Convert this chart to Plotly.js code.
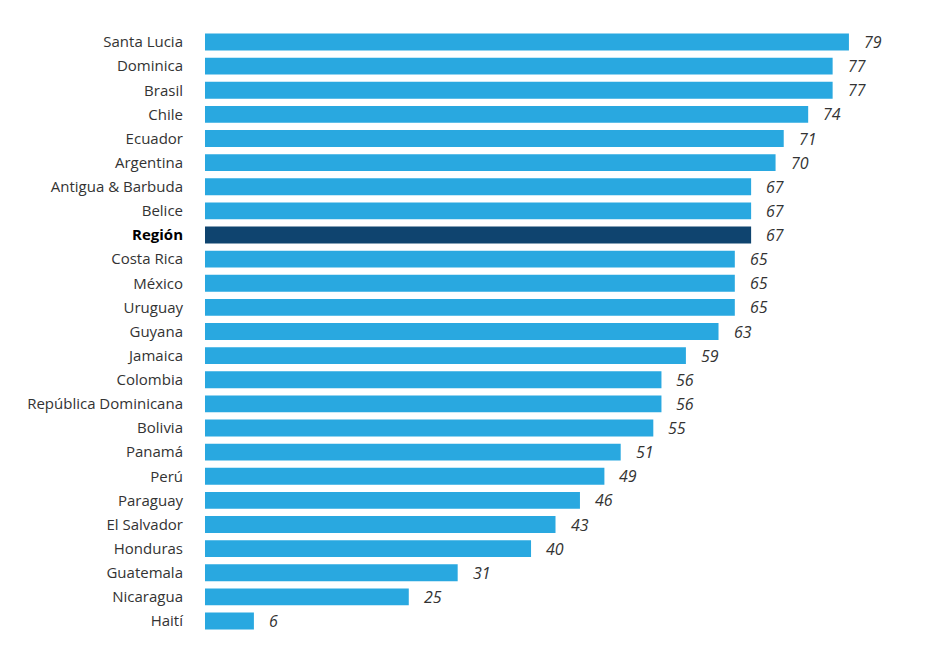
<!DOCTYPE html>
<html><head><meta charset="utf-8">
<script src="https://cdn.plot.ly/plotly-3.0.1.min.js"></script>
<style>body{margin:0;background:#fff}#c{width:928px;height:662px}</style>
</head><body><div id="c"></div>
<script>
const countries = ["Santa Lucia","Dominica","Brasil","Chile","Ecuador","Argentina","Antigua & Barbuda","Belice","Región","Costa Rica","México","Uruguay","Guyana","Jamaica","Colombia","República Dominicana","Bolivia","Panamá","Perú","Paraguay","El Salvador","Honduras","Guatemala","Nicaragua","Haití"];
const values = [79,77,77,74,71,70,67,67,67,65,65,65,63,59,56,56,55,51,49,46,43,40,31,25,6];
const highlight = "Región";

const colors = countries.map(c => c === highlight ? "#0f446f" : "#29a8e0");
const tickText = countries.map(c => c === highlight ? "<b><span style='color:#000'>" + c + "</span></b>" : c);

const trace = {
  type: "bar", orientation: "h",
  x: values, y: countries,
  marker: {color: colors},
  hoverinfo: "none"
};
const annotations = countries.map((c, i) => ({
  x: values[i], y: c, xref: "x", yref: "y",
  text: "<i>" + values[i] + "</i>", showarrow: false,
  xanchor: "left", xshift: 13,
  font: {family: "Open Sans, sans-serif", size: 16, color: "#333"}
}));
const layout = {
  width: 928, height: 662,
  margin: {l: 205, r: 0, t: 29, b: 28},
  paper_bgcolor: "#fff", plot_bgcolor: "#fff",
  showlegend: false,
  bargap: 0.3,
  font: {family: "Open Sans, sans-serif", size: 14, color: "#333"},
  xaxis: {range: [0, 88.7], visible: false, fixedrange: true},
  yaxis: {
    type: "category", autorange: "reversed",
    tickvals: countries, ticktext: tickText,
    showgrid: false, zeroline: false, showline: false, ticks: "",
    ticklabelstandoff: 21,
    tickfont: {family: "Open Sans, sans-serif", size: 15, color: "#333"}
  },
  annotations: annotations
};
Plotly.newPlot("c", [trace], layout, {displayModeBar: false, staticPlot: true});
</script></body></html>
